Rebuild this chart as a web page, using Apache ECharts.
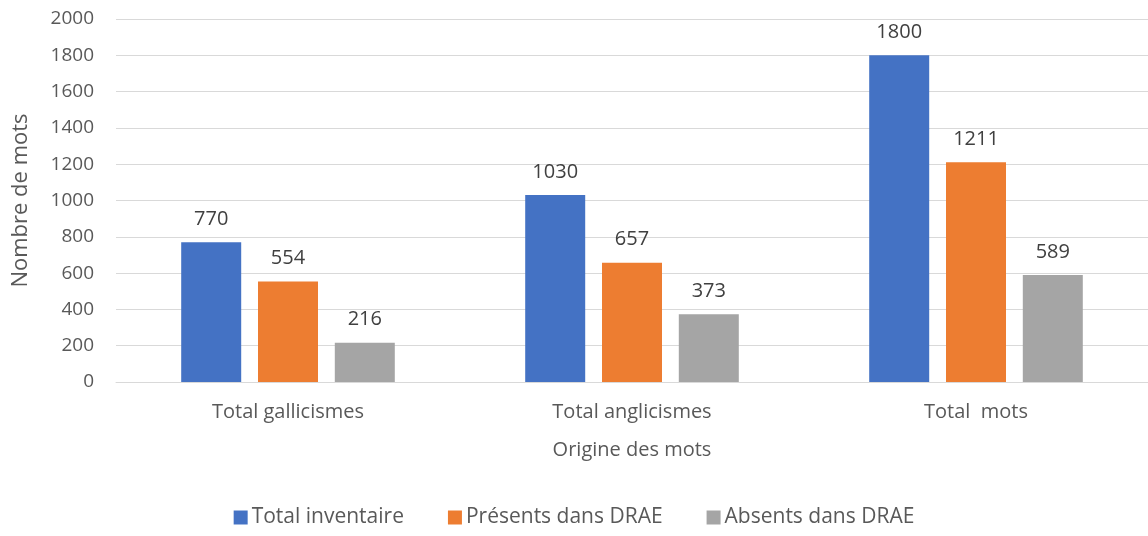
<!DOCTYPE html>
<html>
<head>
<meta charset="utf-8">
<script src="https://cdn.jsdelivr.net/npm/echarts@6/dist/echarts.min.js"></script>
<style>
  html, body { margin: 0; padding: 0; background: #fff; }
  #chart { width: 1148px; height: 536px; }
</style>
</head>
<body>
<div id="chart"></div>
<script>
// données
const categories = ['Total gallicismes', 'Total anglicismes', 'Total  mots']
const seriesNames = ['Total inventaire', 'Présents dans DRAE', 'Absents dans DRAE']
const totalInventaire = [770, 1030, 1800]
const presentsDrae = [554, 657, 1211]
const absentsDrae = [216, 373, 589]
const colors = ['#4472c4', '#ed7d31', '#a5a5a5']

const font = '"Open Sans", Lato, sans-serif'
const textColor = '#595959'

const chart = echarts.init(document.getElementById('chart'))

const makeSeries = (name, data, color) => ({
    name: name,
    type: 'bar',
    data: data,
    barWidth: 60,
    barGap: '28%',
    itemStyle: { color: color },
    label: {
        show: true,
        position: 'top',
        distance: 13,
        color: '#404040',
        fontSize: 20,
        fontFamily: font,
    },
})

chart.setOption({
    animation: false,
    textStyle: { fontFamily: font },
    grid: { left: 116, right: 0, top: 19, bottom: 154 },
    legend: {
        bottom: 3,
        left: 'center',
        itemWidth: 14,
        itemHeight: 14,
        itemGap: 44,
        icon: 'rect',
        textStyle: { fontSize: 21, color: textColor, fontFamily: font, padding: [0, 0, 0, -1] },
        data: seriesNames,
    },
    xAxis: {
        type: 'category',
        data: categories,
        name: 'Origine des mots',
        nameLocation: 'middle',
        nameGap: 58,
        nameTextStyle: { fontSize: 20, color: textColor, fontFamily: font },
        axisLine: { lineStyle: { color: '#d9d9d9', width: 1 } },
        axisTick: { show: false },
        axisLabel: { fontSize: 20, color: textColor, margin: 20, fontFamily: font },
    },
    yAxis: {
        type: 'value',
        min: 0,
        max: 2000,
        interval: 200,
        name: 'Nombre de mots',
        nameLocation: 'middle',
        nameGap: 84,
        nameTextStyle: { fontSize: 22, color: textColor, fontFamily: font },
        axisLine: { show: false },
        axisTick: { show: false },
        axisLabel: {
            fontSize: 19,
            color: textColor,
            margin: 22,
            fontFamily: font,
            formatter: (v) => String(v),
        },
        splitLine: { lineStyle: { color: '#d9d9d9', width: 1 } },
    },
    series: [
        makeSeries(seriesNames[0], totalInventaire, colors[0]),
        makeSeries(seriesNames[1], presentsDrae, colors[1]),
        makeSeries(seriesNames[2], absentsDrae, colors[2]),
    ],
})
</script>
</body>
</html>
